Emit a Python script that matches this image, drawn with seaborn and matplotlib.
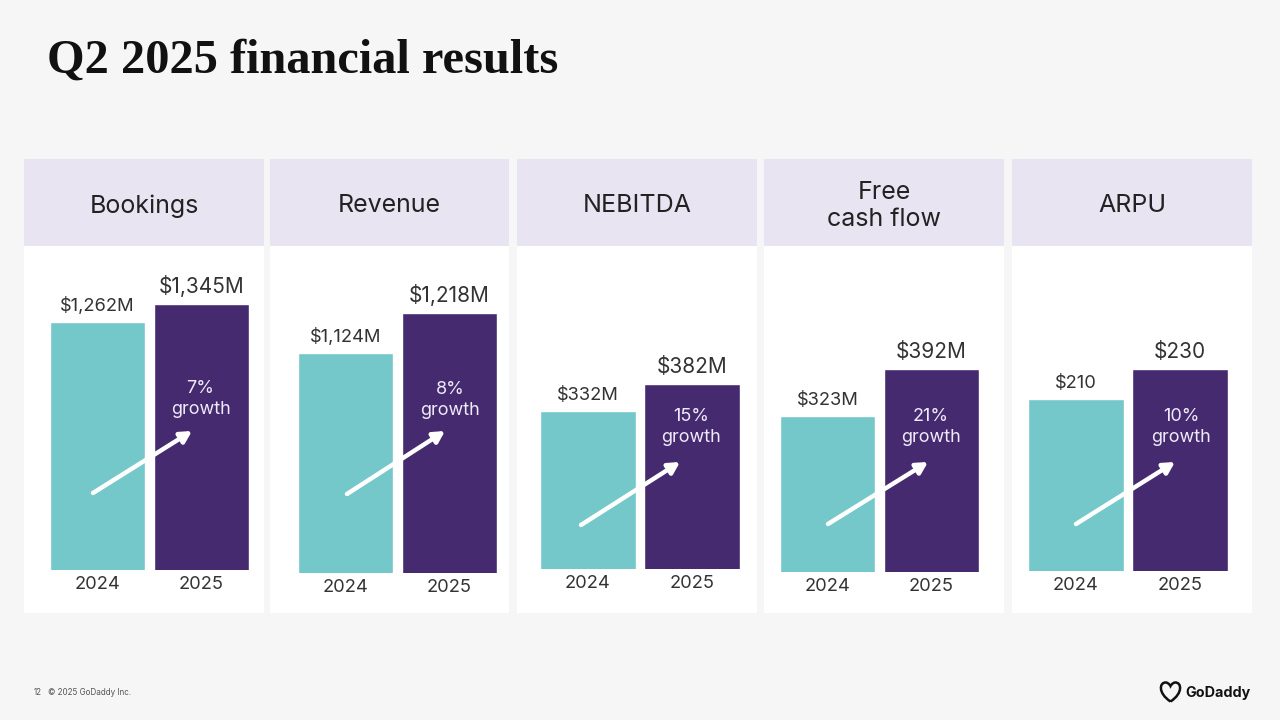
import matplotlib
matplotlib.use('Agg')
import matplotlib.pyplot as plt
from matplotlib.patches import Rectangle, PathPatch
from matplotlib.path import Path
import pandas as pd
import seaborn as sns

# chart data
metrics = ['Bookings', 'Revenue', 'NEBITDA', 'Free\ncash flow', 'ARPU']
years = ['2024', '2025']
values_2024 = [1262, 1124, 332, 323, 210]
values_2025 = [1345, 1218, 382, 392, 230]
labels_2024 = ['$1,262M', '$1,124M', '$332M', '$323M', '$210']
labels_2025 = ['$1,345M', '$1,218M', '$382M', '$392M', '$230']
growth = ['7%\ngrowth', '8%\ngrowth', '15%\ngrowth', '21%\ngrowth', '10%\ngrowth']

# layout, all in reference pixels
W, H = 1280, 720
panel_left = [24, 270, 517, 764, 1012]
panel_right = [264, 509, 757, 1004, 1252]
bar_left = [50, 298, 540.5, 780, 1028.5]
top_2024 = [322, 353, 411, 416, 399]
top_2025 = [304, 313, 384, 369, 369]
base_px = [570, 573, 569, 572, 571]
growth_xy = [(200.5, 399), (450, 400), (691, 427), (931, 427), (1181, 427)]
arrow_from = [(93, 493), (347, 494), (581, 525), (828, 524), (1076, 524)]
arrow_to = [(192, 431), (445, 431), (680, 462), (928, 462), (1175, 462)]

TEAL = '#74c8c9'
PURPLE = '#462a70'
HEADER = '#e8e4f2'
BG = '#f6f6f6'
INK = '#333333'

sns.set_theme(style='white')
plt.rcParams['font.family'] = ['Inter', 'DejaVu Sans']


def fx(x):
    return x / W


def fy(y):
    return 1 - y / H


fig = plt.figure(figsize=(12.8, 7.2), dpi=100, facecolor=BG)

fig.text(fx(47), fy(61), 'Q2 2025 financial results', family='Liberation Serif',
         weight='bold', fontsize=34.8, color='#111111', va='center')

for i, metric in enumerate(metrics):
    l, r = panel_left[i], panel_right[i]
    fig.add_artist(Rectangle((fx(l), fy(613)), fx(r - l), 367 / H, color='white', lw=0, zorder=-2))
    fig.add_artist(Rectangle((fx(l), fy(246)), fx(r - l), 87 / H, color=HEADER, lw=0, zorder=-1))
    fig.text(fx((l + r) / 2), fy(206), metric, ha='center', va='center',
             fontsize=18, color='#222222', linespacing=1.2)

    # axes run from the panel's left/right edges, header down to the bar baseline
    ax = fig.add_axes([fx(l), fy(base_px[i]), fx(r - l), (base_px[i] - 246) / H])
    ax.patch.set_alpha(0)
    df = pd.DataFrame({'year': years, 'value': [values_2024[i], values_2025[i]]})
    sns.barplot(data=df, x='year', y='value', hue='year', palette=[TEAL, PURPLE],
                width=0.915, saturation=1, legend=False, ax=ax)

    # scale each panel so the two bar tops land where the slide has them
    h24 = base_px[i] - top_2024[i]
    h25 = base_px[i] - top_2025[i]
    scale = (h25 - h24) / (values_2025[i] - values_2024[i])
    floor = values_2025[i] - h25 / scale
    ax.set_ylim(floor, floor + (base_px[i] - 246) / scale)
    unit = 104
    x0 = bar_left[i] + 47.5
    ax.set_xlim((l - x0) / unit, (r - x0) / unit)

    ax.bar_label(ax.containers[0], labels=[labels_2024[i]], padding=5, fontsize=13.2, color=INK)
    ax.bar_label(ax.containers[1], labels=[labels_2025[i]], padding=5, fontsize=15, color=INK)

    ax.set_xlabel('')
    ax.set_ylabel('')
    ax.set_yticks([])
    ax.tick_params(axis='x', length=0, pad=4, labelsize=13.2, labelcolor=INK)
    sns.despine(ax=ax, left=True, bottom=True)

    fig.text(fx(growth_xy[i][0]), fy(growth_xy[i][1]), growth[i], ha='center', va='center',
             fontsize=13, color='#efeaf7', linespacing=1.25)

    ax.annotate('', xy=(fx(arrow_to[i][0]), fy(arrow_to[i][1])),
                xytext=(fx(arrow_from[i][0]), fy(arrow_from[i][1])),
                xycoords='figure fraction', textcoords='figure fraction',
                arrowprops=dict(arrowstyle='-|>,head_length=0.55,head_width=0.3',
                                color='white', lw=3.2, shrinkA=0, shrinkB=0))

# footer
fig.text(fx(34), fy(692.5), '12', fontsize=5.8, color='#555555', va='center')
fig.text(fx(48), fy(692.5), '© 2025 GoDaddy Inc.', fontsize=5.8, color='#555555', va='center')

# logo: rough heart outline and wordmark
cx, cy, s = 1170.5, 692, 10
heart = Path([(cx, cy + s * 0.95), (cx - s * 1.3, cy + s * 0.1), (cx - s * 1.1, cy - s * 1.0), (cx - s * 0.45, cy - s * 0.95),
              (cx - s * 0.15, cy - s * 0.9), (cx, cy - s * 0.6), (cx, cy - s * 0.6),
              (cx, cy - s * 0.6), (cx + s * 0.15, cy - s * 0.9), (cx + s * 0.45, cy - s * 0.95),
              (cx + s * 1.1, cy - s * 1.0), (cx + s * 1.3, cy + s * 0.1), (cx, cy + s * 0.95)],
             [Path.MOVETO, Path.CURVE4, Path.CURVE4, Path.CURVE4,
              Path.CURVE4, Path.CURVE4, Path.CURVE4,
              Path.CURVE4, Path.CURVE4, Path.CURVE4,
              Path.CURVE4, Path.CURVE4, Path.CURVE4])
heart = Path([(x / W, 1 - y / H) for x, y in heart.vertices], heart.codes)
fig.add_artist(PathPatch(heart, transform=fig.transFigure, fc='none', ec='#111111', lw=1.8))
fig.text(fx(1185), fy(692.5), 'GoDaddy', fontsize=10.3, weight='bold', color='#111111', va='center')

fig.savefig('out.png', dpi=100, facecolor=BG)
